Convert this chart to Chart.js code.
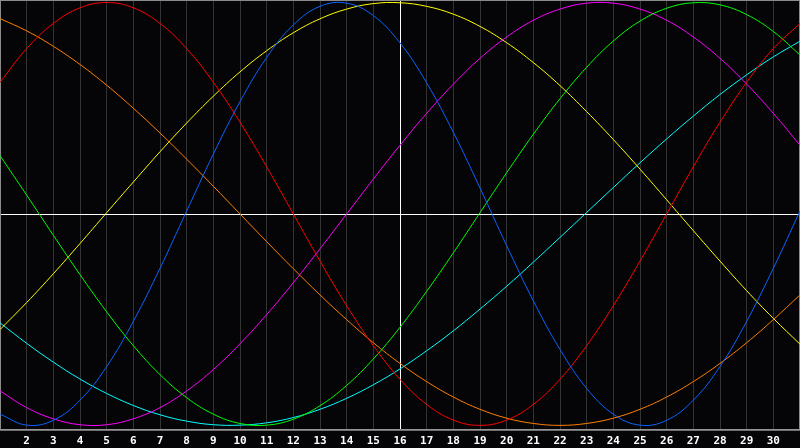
<!DOCTYPE html>
<html>
<head>
<meta charset="utf-8">
<script src="https://cdn.jsdelivr.net/npm/chart.js@4"></script>
<style>
  html, body { margin: 0; padding: 0; background: #050508; }
  #wrap { width: 800px; height: 448px; position: relative; }
</style>
</head>
<body>
<div id="wrap"><canvas id="bioChart"></canvas></div>
<script>
// days of the month shown on the x axis
var days = [1,2,3,4,5,6,7,8,9,10,11,12,13,14,15,16,17,18,19,20,21,22,23,24,25,26,27,28,29,30,31];
var today = 16;

// cycle values, one per day
var physical = [-0.947,-0.999,-0.976,-0.881,-0.722,-0.508,-0.257,0.014,0.283,0.531,0.740,0.894,0.982,0.997,0.938,0.809,0.620,0.386,0.123,-0.150,-0.411,-0.641,-0.825,-0.947,-0.999,-0.976,-0.881,-0.722,-0.508,-0.257,0.014];
var emotional = [0.623,0.782,0.901,0.975,1.000,0.975,0.901,0.782,0.623,0.434,0.223,0,-0.223,-0.434,-0.623,-0.782,-0.901,-0.975,-1.000,-0.975,-0.901,-0.782,-0.623,-0.434,-0.223,0,0.223,0.434,0.623,0.782,0.901];
var intellectual = [0.276,0.089,-0.101,-0.287,-0.463,-0.623,-0.760,-0.869,-0.947,-0.991,-0.999,-0.971,-0.907,-0.811,-0.686,-0.536,-0.366,-0.184,0.006,0.195,0.377,0.545,0.694,0.818,0.912,0.973,0.999,0.989,0.943,0.863,0.752];
var intuitive = [-0.837,-0.916,-0.969,-0.997,-0.997,-0.969,-0.916,-0.837,-0.736,-0.614,-0.476,-0.325,-0.165,0,0.165,0.325,0.476,0.614,0.736,0.837,0.916,0.969,0.997,0.997,0.969,0.916,0.837,0.736,0.614,0.476,0.325];
var aesthetic = [-0.547,-0.419,-0.283,-0.140,0.006,0.151,0.294,0.430,0.557,0.672,0.772,0.857,0.923,0.969,0.995,0.999,0.982,0.945,0.887,0.810,0.716,0.607,0.484,0.352,0.212,0.067,-0.079,-0.223,-0.363,-0.494,-0.616];
var awareness = [0.924,0.866,0.793,0.707,0.609,0.500,0.383,0.259,0.131,0,-0.131,-0.259,-0.383,-0.500,-0.609,-0.707,-0.793,-0.866,-0.924,-0.966,-0.991,-1.000,-0.991,-0.966,-0.924,-0.866,-0.793,-0.707,-0.609,-0.500,-0.383];
var spiritual = [-0.515,-0.612,-0.701,-0.781,-0.849,-0.906,-0.950,-0.980,-0.997,-0.999,-0.988,-0.963,-0.924,-0.872,-0.808,-0.733,-0.647,-0.553,-0.450,-0.342,-0.228,-0.111,0.007,0.125,0.242,0.355,0.463,0.565,0.658,0.743,0.817];

function line(label, data, color) {
    return {
        label: label,
        data: data,
        borderColor: color,
        borderWidth: 1,
        pointRadius: 0,
        pointHoverRadius: 0,
        pointBorderWidth: 0,
        pointHoverBorderWidth: 0,
        tension: 0.4,
        fill: false
    };
}

// frame + zero line drawn under the curves
var framePlugin = {
    id: 'frame',
    beforeDatasetsDraw: function(chart) {
        var ctx = chart.ctx, a = chart.chartArea;
        var y0 = Math.round(chart.scales.y.getPixelForValue(0)) + 0.5;
        ctx.save();
        ctx.strokeStyle = '#ffffff';
        ctx.lineWidth = 1;
        ctx.beginPath();
        ctx.moveTo(a.left, y0);
        ctx.lineTo(a.right, y0);
        ctx.stroke();
        ctx.strokeStyle = '#8a8a8a';
        ctx.strokeRect(a.left + 0.5, a.top + 0.5, a.right - a.left - 1, a.bottom - a.top);
        ctx.restore();
    }
};

var bioChart = new Chart(document.getElementById('bioChart').getContext('2d'), {
    type: 'line',
    data: {
        labels: days,
        datasets: [
            line('Physical', physical, '#0a64ff'),
            line('Emotional', emotional, '#ff0000'),
            line('Intellectual', intellectual, '#00ff00'),
            line('Intuitive', intuitive, '#ff00ff'),
            line('Aesthetic', aesthetic, '#ffff00'),
            line('Awareness', awareness, '#ff8000'),
            line('Spiritual', spiritual, '#00ffff')
        ]
    },
    options: {
        responsive: true,
        maintainAspectRatio: false,
        animation: false,
        layout: { padding: { left: 0, right: 0, top: 0, bottom: -5 } },
        plugins: {
            legend: { display: false },
            tooltip: { enabled: false }
        },
        scales: {
            x: {
                offset: false,
                afterFit: function(s) { s.paddingLeft = 0; s.paddingRight = 0; },
                grid: {
                    offset: false,
                    drawTicks: false,
                    color: function(c) {
                        if (days[c.index] === today) return '#ffffff';
                        if (c.index === 0 || c.index === days.length - 1) return '#8a8a8a';
                        return '#333333';
                    }
                },
                border: { display: true, color: '#9a9a9a' },
                ticks: {
                    autoSkip: false,
                    maxRotation: 0,
                    padding: 5,
                    color: '#ffffff',
                    font: { family: 'DejaVu Sans Mono', size: 11, weight: 'bold' },
                    callback: function(v, i) {
                        return (i === 0 || i === days.length - 1) ? '' : String(days[i]);
                    }
                }
            },
            y: {
                display: false,
                min: -1.021,
                max: 1.012
            }
        }
    },
    plugins: [framePlugin]
});
</script>
</body>
</html>
